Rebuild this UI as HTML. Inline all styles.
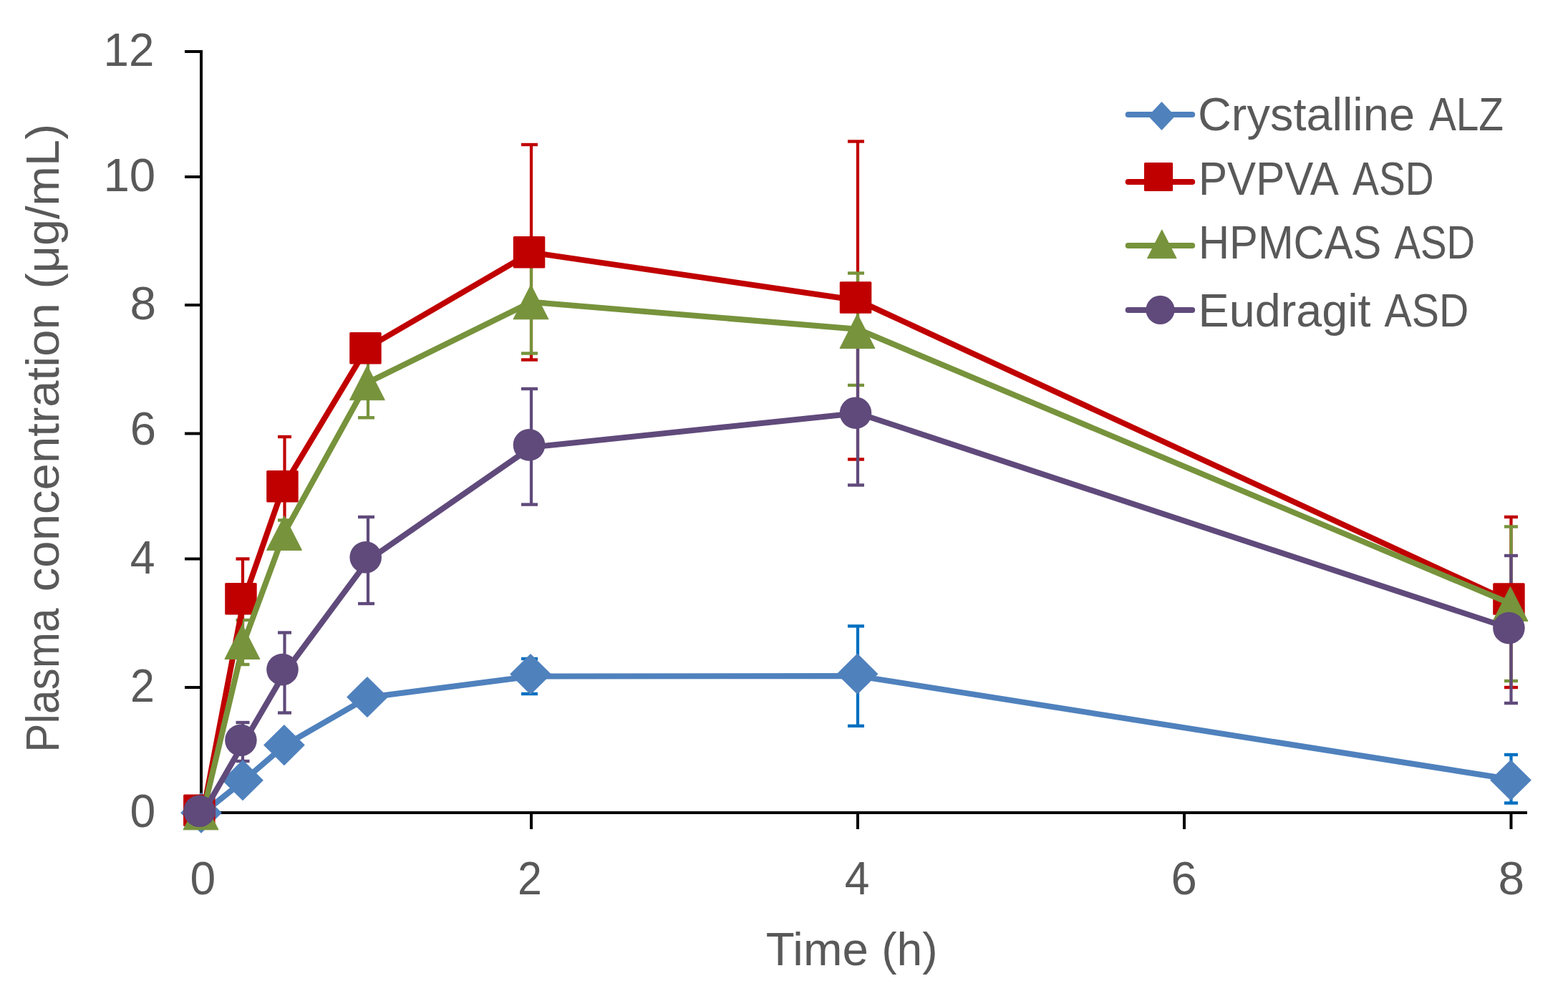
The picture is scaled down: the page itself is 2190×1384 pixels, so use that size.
<!DOCTYPE html>
<html><head><meta charset="utf-8"><title>Plasma concentration chart</title>
<style>
html,body{margin:0;padding:0;background:#fff;}
body{width:2190px;height:1384px;overflow:hidden;}
svg{display:block;}
text{font-family:"Liberation Sans", sans-serif;fill:#595959;}
</style></head><body>
<svg width="2190" height="1384" viewBox="0 0 2190 1384">
<rect x="0" y="0" width="2190" height="1384" fill="#fff"/>

<g fill="#000">
<rect x="279" y="70" width="4" height="1067"/>
<rect x="279" y="1133" width="1854" height="4"/>
<rect x="258" y="70.0" width="23" height="4"/>
<rect x="258" y="245.0" width="23" height="4"/>
<rect x="258" y="424.0" width="23" height="4"/>
<rect x="258" y="603.5" width="23" height="4"/>
<rect x="258" y="778.5" width="23" height="4"/>
<rect x="258" y="958.0" width="23" height="4"/>
<rect x="258" y="1133.0" width="23" height="4"/>
<rect x="279.0" y="1135" width="4" height="23"/>
<rect x="740.0" y="1135" width="4" height="23"/>
<rect x="1196.0" y="1135" width="4" height="23"/>
<rect x="1652.0" y="1135" width="4" height="23"/>
<rect x="2108.5" y="1135" width="4" height="23"/>
</g>
<text x="144.5" y="91.9" font-size="65.6" textLength="70.8" lengthAdjust="spacingAndGlyphs">12</text>
<text x="144.4" y="266.7" font-size="65.6" textLength="72.8" lengthAdjust="spacingAndGlyphs">10</text>
<text x="181.4" y="446.0" font-size="65.6" textLength="36.6" lengthAdjust="spacingAndGlyphs">8</text>
<text x="181.7" y="621.0" font-size="65.6" textLength="36.3" lengthAdjust="spacingAndGlyphs">6</text>
<text x="181.7" y="800.9" font-size="65.6" textLength="34.8" lengthAdjust="spacingAndGlyphs">4</text>
<text x="182.0" y="979.9" font-size="65.6" textLength="33.9" lengthAdjust="spacingAndGlyphs">2</text>
<text x="181.4" y="1155.0" font-size="65.6" textLength="35.8" lengthAdjust="spacingAndGlyphs">0</text>
<text x="265.4" y="1249.1" font-size="65.6" textLength="35.7" lengthAdjust="spacingAndGlyphs">0</text>
<text x="723.0" y="1248.9" font-size="65.6" textLength="33.9" lengthAdjust="spacingAndGlyphs">2</text>
<text x="1179.8" y="1248.9" font-size="65.6" textLength="34.7" lengthAdjust="spacingAndGlyphs">4</text>
<text x="1635.6" y="1249.0" font-size="65.6" textLength="36.3" lengthAdjust="spacingAndGlyphs">6</text>
<text x="2092.4" y="1249.0" font-size="65.6" textLength="36.6" lengthAdjust="spacingAndGlyphs">8</text>
<text x="1069.8" y="1347.8" font-size="65.4" textLength="143.0" lengthAdjust="spacingAndGlyphs">Time</text>
<text x="1231.2" y="1347.8" font-size="65.4" textLength="78.4" lengthAdjust="spacingAndGlyphs">(h)</text>
<text transform="translate(81.8,1050.7) rotate(-90)" x="0" y="0" font-size="65.4" textLength="201.2" lengthAdjust="spacingAndGlyphs">Plasma</text>
<text transform="translate(81.8,826.2) rotate(-90)" x="0" y="0" font-size="65.4" textLength="403.0" lengthAdjust="spacingAndGlyphs">concentration</text>
<text transform="translate(81.8,403.5) rotate(-90)" x="0" y="0" font-size="65.4" textLength="230.8" lengthAdjust="spacingAndGlyphs">(μg/mL)</text>
<g fill="#0070C0">
<rect x="739.9" y="920.0" width="4.2" height="49.0"/>
<rect x="728.0" y="917.8" width="23" height="4.4"/>
<rect x="728.0" y="966.8" width="23" height="4.4"/>
<rect x="1195.9" y="874.4" width="4.2" height="139.4"/>
<rect x="1184.0" y="872.2" width="23" height="4.4"/>
<rect x="1184.0" y="1011.6" width="23" height="4.4"/>
<rect x="2108.4" y="1054.0" width="4.2" height="67.5"/>
<rect x="2101.0" y="1051.8" width="19.0" height="4.4"/>
<rect x="2101.0" y="1119.3" width="19.0" height="4.4"/>
</g>
<g fill="#C00000">
<rect x="336.9" y="780.5" width="4.2" height="115.0"/>
<rect x="329.5" y="778.3" width="19.0" height="4.4"/>
<rect x="329.5" y="893.3" width="19.0" height="4.4"/>
<rect x="395.4" y="610.0" width="4.2" height="142.0"/>
<rect x="388.0" y="607.8" width="19.0" height="4.4"/>
<rect x="388.0" y="749.8" width="19.0" height="4.4"/>
<rect x="739.9" y="202.0" width="4.2" height="300.5"/>
<rect x="728.0" y="199.8" width="23" height="4.4"/>
<rect x="728.0" y="500.3" width="23" height="4.4"/>
<rect x="1195.9" y="197.5" width="4.2" height="444.0"/>
<rect x="1184.0" y="195.3" width="23" height="4.4"/>
<rect x="1184.0" y="639.3" width="23" height="4.4"/>
<rect x="2108.4" y="722.0" width="4.2" height="238.0"/>
<rect x="2101.0" y="719.8" width="19.0" height="4.4"/>
<rect x="2101.0" y="957.8" width="19.0" height="4.4"/>
</g>
<g fill="#77933C">
<rect x="336.9" y="866.0" width="4.2" height="62.0"/>
<rect x="329.5" y="863.8" width="19.0" height="4.4"/>
<rect x="329.5" y="925.8" width="19.0" height="4.4"/>
<rect x="395.4" y="726.5" width="4.2" height="35.5"/>
<rect x="388.0" y="724.3" width="19.0" height="4.4"/>
<rect x="388.0" y="759.8" width="19.0" height="4.4"/>
<rect x="511.9" y="486.0" width="4.2" height="97.3"/>
<rect x="500.0" y="483.8" width="23" height="4.4"/>
<rect x="500.0" y="581.1" width="23" height="4.4"/>
<rect x="739.9" y="350.0" width="4.2" height="143.5"/>
<rect x="728.0" y="347.8" width="23" height="4.4"/>
<rect x="728.0" y="491.3" width="23" height="4.4"/>
<rect x="1195.9" y="381.5" width="4.2" height="156.5"/>
<rect x="1184.0" y="379.3" width="23" height="4.4"/>
<rect x="1184.0" y="535.8" width="23" height="4.4"/>
<rect x="2108.4" y="735.5" width="4.2" height="215.5"/>
<rect x="2101.0" y="733.3" width="19.0" height="4.4"/>
<rect x="2101.0" y="948.8" width="19.0" height="4.4"/>
</g>
<g fill="#604A7B">
<rect x="336.9" y="1009.0" width="4.2" height="54.0"/>
<rect x="329.5" y="1006.8" width="19.0" height="4.4"/>
<rect x="329.5" y="1060.8" width="19.0" height="4.4"/>
<rect x="395.4" y="883.5" width="4.2" height="112.0"/>
<rect x="388.0" y="881.3" width="19.0" height="4.4"/>
<rect x="388.0" y="993.3" width="19.0" height="4.4"/>
<rect x="511.9" y="722.0" width="4.2" height="121.0"/>
<rect x="500.0" y="719.8" width="23" height="4.4"/>
<rect x="500.0" y="840.8" width="23" height="4.4"/>
<rect x="739.9" y="543.0" width="4.2" height="161.6"/>
<rect x="728.0" y="540.8" width="23" height="4.4"/>
<rect x="728.0" y="702.4" width="23" height="4.4"/>
<rect x="1195.9" y="482.0" width="4.2" height="195.5"/>
<rect x="1184.0" y="479.8" width="23" height="4.4"/>
<rect x="1184.0" y="675.3" width="23" height="4.4"/>
<rect x="2108.4" y="776.0" width="4.2" height="206.0"/>
<rect x="2101.0" y="773.8" width="19.0" height="4.4"/>
<rect x="2101.0" y="979.8" width="19.0" height="4.4"/>
</g>
<polyline points="283.5,1135.5 340.0,1090.5 397.5,1041.0 513.5,974.0 742.0,944.5 1198.0,944.1 2110.5,1088.5" fill="none" stroke="#4F81BD" stroke-width="8" stroke-linejoin="round" stroke-linecap="round"/>
<polygon points="281.0,1106.6 309.9,1135.2 281.0,1163.8 252.1,1135.2" fill="#4F81BD"/>
<polygon points="339.0,1061.1 367.9,1089.7 339.0,1118.3 310.1,1089.7" fill="#4F81BD"/>
<polygon points="396.9,1012.0 425.8,1040.6 396.9,1069.2 368.0,1040.6" fill="#4F81BD"/>
<polygon points="513.0,944.9 541.9,973.5 513.0,1002.1 484.1,973.5" fill="#4F81BD"/>
<polygon points="741.0,913.0 769.9,941.6 741.0,970.2 712.1,941.6" fill="#4F81BD"/>
<polygon points="1197.5,912.6 1226.4,941.2 1197.5,969.8 1168.6,941.2" fill="#4F81BD"/>
<polygon points="2110.0,1060.9 2138.9,1089.5 2110.0,1118.1 2081.1,1089.5" fill="#4F81BD"/>
<polyline points="283.5,1135.5 340.5,838.0 396.0,679.2 512.0,486.4 742.0,352.5 1198.0,419.5 2110.5,841.0" fill="none" stroke="#C00000" stroke-width="8" stroke-linejoin="round" stroke-linecap="round"/>
<rect x="256.1" y="1109.5" width="44.5" height="44.5" rx="1.5" fill="#C00000"/>
<rect x="314.2" y="814.1" width="44.5" height="44.5" rx="1.5" fill="#C00000"/>
<rect x="372.2" y="657.0" width="44.5" height="44.5" rx="1.5" fill="#C00000"/>
<rect x="488.2" y="464.1" width="44.5" height="44.5" rx="1.5" fill="#C00000"/>
<rect x="716.8" y="330.1" width="44.5" height="44.5" rx="1.5" fill="#C00000"/>
<rect x="1172.8" y="393.2" width="44.5" height="44.5" rx="1.5" fill="#C00000"/>
<rect x="2085.2" y="814.2" width="44.5" height="44.5" rx="1.5" fill="#C00000"/>
<polyline points="283.5,1135.5 340.5,897.0 397.0,744.4 512.9,534.7 742.0,421.8 1198.0,459.8 2110.5,843.2" fill="none" stroke="#77933C" stroke-width="8" stroke-linejoin="round" stroke-linecap="round"/>
<polygon points="280.5,1110.8 305.0,1158.8 256.0,1158.8" fill="#77933C" stroke="#77933C" stroke-width="1" stroke-linejoin="round"/>
<polygon points="338.4,872.5 362.9,920.5 313.9,920.5" fill="#77933C" stroke="#77933C" stroke-width="1" stroke-linejoin="round"/>
<polygon points="397.0,720.4 421.5,768.4 372.5,768.4" fill="#77933C" stroke="#77933C" stroke-width="1" stroke-linejoin="round"/>
<polygon points="512.9,510.7 537.4,558.7 488.4,558.7" fill="#77933C" stroke="#77933C" stroke-width="1" stroke-linejoin="round"/>
<polygon points="741.5,397.8 766.0,445.8 717.0,445.8" fill="#77933C" stroke="#77933C" stroke-width="1" stroke-linejoin="round"/>
<polygon points="1197.5,438.6 1222.0,486.6 1173.0,486.6" fill="#77933C" stroke="#77933C" stroke-width="1" stroke-linejoin="round"/>
<polygon points="2109.5,819.4 2134.0,867.4 2085.0,867.4" fill="#77933C" stroke="#77933C" stroke-width="1" stroke-linejoin="round"/>
<polyline points="283.5,1135.5 340.5,1037.0 397.5,939.5 514.0,782.5 742.0,624.6 1198.0,577.0 2110.5,878.0" fill="none" stroke="#604A7B" stroke-width="8" stroke-linejoin="round" stroke-linecap="round"/>
<circle cx="278.5" cy="1132.8" r="22.3" fill="#604A7B"/>
<circle cx="336.4" cy="1033.8" r="22.3" fill="#604A7B"/>
<circle cx="394.5" cy="935.1" r="22.3" fill="#604A7B"/>
<circle cx="510.7" cy="778.3" r="22.3" fill="#604A7B"/>
<circle cx="739.0" cy="621.4" r="22.3" fill="#604A7B"/>
<circle cx="1195.0" cy="576.7" r="22.3" fill="#604A7B"/>
<circle cx="2107.4" cy="877.1" r="22.3" fill="#604A7B"/>
<line x1="1575.7" y1="160" x2="1665.2" y2="160" stroke="#4F81BD" stroke-width="8" stroke-linecap="round"/>
<polygon points="1622.5,141.9 1641.3,162.0 1622.5,182.1 1603.7,162.0" fill="#4F81BD"/>
<text x="1673.0" y="182" font-size="65.4" textLength="303.0" lengthAdjust="spacingAndGlyphs">Crystalline</text>
<text x="1995.9" y="182" font-size="65.4" textLength="104.1" lengthAdjust="spacingAndGlyphs">ALZ</text>
<line x1="1575.7" y1="254" x2="1665.2" y2="254" stroke="#C00000" stroke-width="8" stroke-linecap="round"/>
<rect x="1598.0" y="226.9" width="40.1" height="40.1" rx="1.5" fill="#C00000"/>
<text x="1674.0" y="272" font-size="65.4" textLength="195.9" lengthAdjust="spacingAndGlyphs">PVPVA</text>
<text x="1889.1" y="272" font-size="65.4" textLength="113.5" lengthAdjust="spacingAndGlyphs">ASD</text>
<line x1="1575.7" y1="343" x2="1665.2" y2="343" stroke="#77933C" stroke-width="8" stroke-linecap="round"/>
<polygon points="1622.8,320.9 1643.1,360.7 1602.5,360.7" fill="#77933C" stroke="#77933C" stroke-width="1" stroke-linejoin="round"/>
<text x="1674.0" y="360.7" font-size="65.4" textLength="255.3" lengthAdjust="spacingAndGlyphs">HPMCAS</text>
<text x="1947.5" y="360.7" font-size="65.4" textLength="112.6" lengthAdjust="spacingAndGlyphs">ASD</text>
<line x1="1575.7" y1="433" x2="1665.2" y2="433" stroke="#604A7B" stroke-width="8" stroke-linecap="round"/>
<circle cx="1620.5" cy="432.9" r="20.1" fill="#604A7B"/>
<text x="1673.6" y="455.8" font-size="65.4" textLength="240.9" lengthAdjust="spacingAndGlyphs">Eudragit</text>
<text x="1933.6" y="455.8" font-size="65.4" textLength="117.6" lengthAdjust="spacingAndGlyphs">ASD</text>
</svg>
</body></html>
